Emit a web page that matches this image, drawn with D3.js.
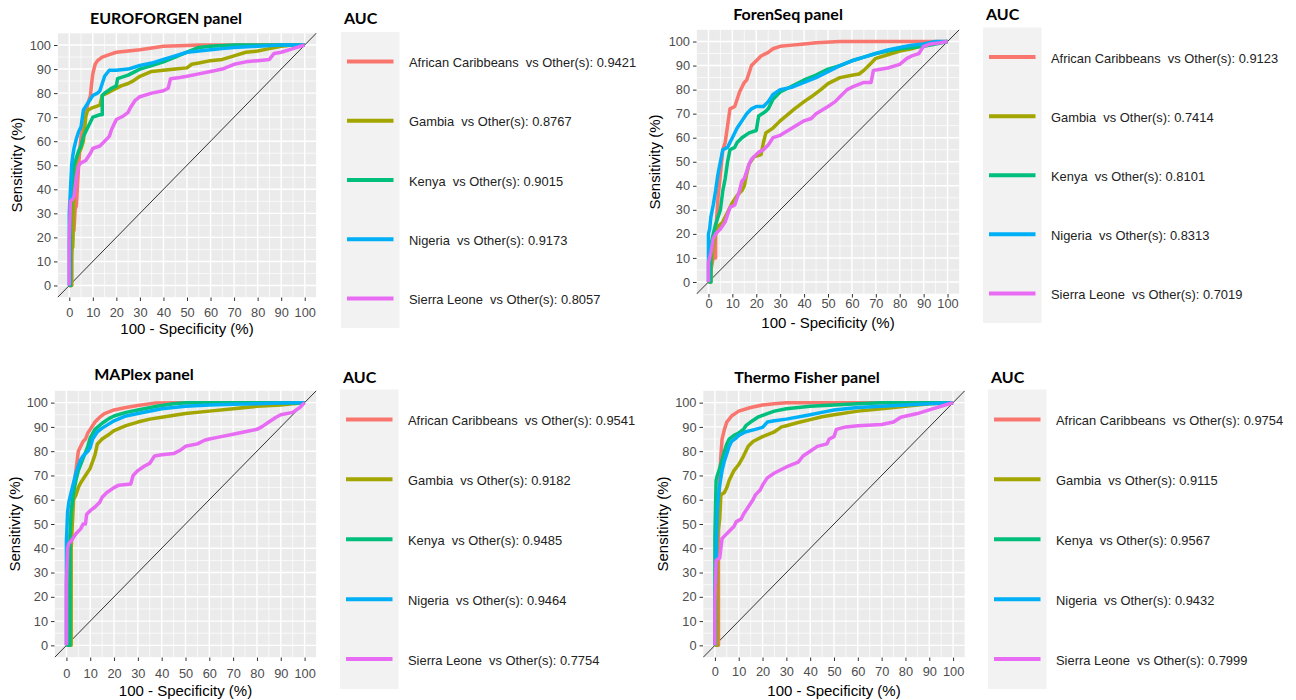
<!DOCTYPE html>
<html>
<head>
<meta charset="utf-8">
<script src="https://cdn.jsdelivr.net/npm/d3@7"></script>
<style>
  body { margin: 0; background: #ffffff; }
  svg { display: block; }
  .legend-label { white-space: pre; }
</style>
</head>
<body>
<svg id="chart" width="1296" height="700"></svg>
<script>
// ---------------------------------------------------------------
// ROC curves: [100 - specificity (%), sensitivity (%)] per population
// ---------------------------------------------------------------
const panelTitles = ["EUROFORGEN panel", "ForenSeq panel", "MAPlex panel", "Thermo Fisher panel"];
const populations = ["African Caribbeans", "Gambia", "Kenya", "Nigeria", "Sierra Leone"];

const aucEuroforgen = [0.9421, 0.8767, 0.9015, 0.9173, 0.8057];
const aucForenseq   = [0.9123, 0.7414, 0.8101, 0.8313, 0.7019];
const aucMaplex     = [0.9541, 0.9182, 0.9485, 0.9464, 0.7754];
const aucThermo     = [0.9754, 0.9115, 0.9567, 0.9432, 0.7999];

const axisTicks  = [0, 10, 20, 30, 40, 50, 60, 70, 80, 90, 100];
const minorTicks = [-5, 5, 15, 25, 35, 45, 55, 65, 75, 85, 95, 105];

// EUROFORGEN
const euroAfricanCaribbeans = [[0,0],[1,0],[1,12],[1.5,22],[2,23],[2.5,32],[3,33],[3.5,42],[4,50],[4.5,57],[5,62],[6,66],[7,72],[8,76],[9,79],[9.5,84],[10,88],[11,92],[12,93.5],[14,95],[17,96],[20,97],[25,97.5],[30,98],[35,98.8],[40,99.5],[50,99.8],[55,100],[100,100]];
const euroGambia = [[0,0],[1,0],[1,15],[1.5,16],[2,40],[2.5,48],[3,52],[4,55],[5,57],[6,60],[7,70],[7.5,72],[8,73],[10,74],[13,75],[14,79],[16,80],[18,81],[22,83],[25,84],[27,85],[30,87],[35,89],[40,89.5],[45,90],[50,90.5],[52,92],[55,92.5],[60,93.5],[65,94],[70,95.5],[75,97],[80,97.5],[85,98.5],[90,99.5],[95,100],[100,100]];
const euroKenya = [[0,0],[0.5,0],[0.5,30],[1,40],[2,50],[3,53],[4,56],[5,58],[6,62],[8,66],[10,70],[13,71],[14,71],[14,79],[15,80],[18,82],[20,83],[20.5,86],[25,87.5],[30,90],[35,91.5],[40,93],[45,95],[50,97],[55,99],[60,99.5],[70,100],[100,100]];
const euroNigeria = [[0,0],[0,30],[0.5,40],[1,50],[1.5,54],[2,57],[3,61],[4,64],[5,66],[6,73],[8,76],[10,79],[12,80],[13,81],[14,84],[15,87],[17,89.5],[20,89.5],[25,90],[30,91.5],[35,92.5],[40,94],[45,95.5],[50,97],[55,97.5],[60,98],[65,98.5],[70,99],[80,99.5],[90,100],[100,100]];
const euroSierraLeone = [[0,0],[0,18],[0.5,35],[1.5,36],[2,37],[3,45],[4,50],[5,51],[7,52],[9,55],[10,57],[13,58],[15,60],[17,62],[18,65],[19,67],[20,69],[23,70.5],[25,72],[26,74],[28,77],[30,78.5],[35,80],[40,81],[42,82],[43,86],[47,86.5],[50,87],[55,88],[60,89],[65,90],[70,92],[75,93],[80,93.5],[85,94],[87,96.5],[90,97],[95,98.5],[100,100]];

// ForenSeq
const forenAfricanCaribbeans = [[0,0],[1,0],[1,5],[2,10],[3,10],[3,20],[4,35],[5,45],[6,55],[7,58],[8,65],[9,72],[11,73],[12,76],[13,79],[15,83],[16,84],[17,87],[18,90],[20,92],[22,94],[25,95.5],[27,97],[30,98],[35,98.5],[40,99],[45,99.5],[55,100],[100,100]];
const forenGambia = [[0,0],[1,0],[1,5],[2,15],[3,20],[4,23],[6,25],[8,29],[10,33],[12,36],[14,38],[15,40],[16,45],[17,49],[19,52],[22,53],[23,58],[24,62],[27,64],[30,67],[33,69.5],[36,72],[40,75],[43,77],[47,80],[50,82.5],[55,85],[60,86],[63,86.5],[65,88],[68,91],[70,93],[75,94.5],[80,96],[85,97],[90,98.5],[95,99.5],[100,100]];
const forenKenya = [[0,0],[1,0],[1,8],[1,15],[2,20],[3,24],[4,27],[5,30],[6,38],[7,43],[8,50],[9,55],[11,56],[12,58],[14,60],[17,62],[20,63],[21,69],[24,71],[25,72],[27,76],[30,79],[35,81.5],[40,84],[45,86],[50,88.5],[55,90],[60,92],[65,93.5],[70,95],[75,96],[80,97],[85,97.5],[90,98],[95,99],[100,100]];
const forenNigeria = [[0,0],[0,20],[0.5,22],[1,27],[2,32],[3,38],[4,45],[5,50],[6,55],[8,56],[9,58],[10,60],[12,64],[14,67],[16,70],[18,72],[20,73],[23,73],[25,75],[27,78],[30,80],[35,81],[40,83],[45,85],[50,87.5],[55,90],[60,92],[65,93.5],[70,95],[75,96.5],[80,97.5],[85,98.5],[90,99],[95,100],[100,100]];
const forenSierraLeone = [[0,0],[0,8],[1,12],[2,18],[3,20],[5,22],[7,25],[8,28],[9,31],[11,32],[12,35],[13,38],[14,42],[15,43],[17,49],[18,51],[21,54],[23,55],[25,57],[27,60],[30,61],[35,64],[40,67],[43,68],[45,70],[50,73],[53,75],[55,77],[58,80],[60,81],[65,83],[68,83],[69,88],[72,88.5],[75,89],[80,90.5],[83,93],[85,94],[88,95],[90,98],[93,99],[97,99.5],[100,100]];

// MAPlex
const maplexAfricanCaribbeans = [[0,0],[1.5,0],[1.5,13],[1.5,40],[2,55],[3,64],[4,72],[5,80],[6,82],[7,84],[8,85],[9,87.5],[10,89],[12,92],[14,94],[16,95.5],[20,97],[25,98],[30,98.8],[37,99.8],[45,100],[100,100]];
const maplexGambia = [[0,0],[2,0],[2,40],[2.5,50],[3,60],[4,62],[5,65],[6,67],[8,70],[10,73],[12,78.5],[13,83],[15,85],[18,87],[20,88.5],[25,90.5],[30,92],[35,93.2],[40,94],[50,95.5],[60,96.5],[70,97.5],[80,98.5],[90,99],[95,99.5],[100,100]];
const maplexKenya = [[0,0],[1.5,0],[1.5,16],[1.5,45],[2,55],[3,63],[4,68],[5,72],[7,77],[9,82],[10,85.5],[12,89],[15,91.5],[18,93.5],[20,94.5],[25,96],[30,97],[38,98.5],[45,99.5],[50,100],[100,100]];
const maplexNigeria = [[0,0],[0,25],[0,43],[0.5,55],[1,59],[2,63],[3,67],[4,71],[5,74],[6,76.5],[7,78],[9,80],[10,81.5],[11,85],[13,88],[15,89.5],[20,92.5],[25,94.5],[30,95.5],[40,97.5],[50,98.5],[60,99],[70,99.3],[80,99.5],[90,99.8],[100,100]];
const maplexSierraLeone = [[0,0],[0,25],[0.5,40],[1,42],[2,43],[3,44.5],[4,46],[6,48],[7,50],[8,50],[8.5,54],[10,55.5],[12,57],[14,59],[15,61],[17,63],[20,65],[22,66],[27,66.5],[28,70],[30,72],[33,74],[35,75],[37,78],[40,78.5],[45,79],[48,80.5],[50,82],[55,83],[58,84.5],[60,85],[65,86],[70,87],[75,88],[80,89],[82,90],[85,92],[88,94],[90,95],[95,96],[98,98],[100,100]];

// Thermo Fisher
const thermoAfricanCaribbeans = [[0,0],[1.5,0],[1.5,45],[2,70],[2.5,78],[3,85],[4,89],[5,92],[7,94.5],[10,96.5],[15,98],[20,99],[25,99.5],[30,100],[100,100]];
const thermoGambia = [[0,0],[1,0],[1,45],[2,52],[2.5,62],[4,63],[5,65],[6,68],[8,72],[10,74.5],[12,78],[14,82],[16,84],[20,86],[25,88],[28,90],[30,90.5],[35,91.8],[40,93],[45,94.2],[50,95],[60,96.5],[70,97.5],[80,98.5],[90,99.5],[100,100]];
const thermoKenya = [[0,0],[0,45],[0.5,68],[1,70],[2,73],[3,76.5],[4,80],[5,83],[6,85],[8,86.5],[10,87.5],[12,89],[13,90.5],[15,92],[18,94],[22,95.5],[25,96.5],[30,97.5],[40,98.5],[50,99],[60,99.5],[70,100],[100,100]];
const thermoNigeria = [[0,0],[0,18],[0.5,35],[1,55],[1.5,62],[2,66],[3,72],[4,76],[5,79],[6,82],[7,84],[9,85.5],[10,86.5],[13,88],[17,89],[20,89.8],[22,92],[25,92.5],[30,93.2],[40,95],[47,96.4],[50,97],[60,98],[70,98.5],[80,99],[90,99.5],[100,100]];
const thermoSierraLeone = [[0,0],[0,17],[0.5,35],[2,36],[3,44],[4,45],[6,47],[8,49],[9,51],[11,52],[12,54],[14,57],[16,60],[17,62],[19,64],[20,66],[22,69],[25,71],[30,73.5],[35,75.5],[37,78],[40,80],[43,82],[47,83],[48,85],[50,86],[51,89],[55,90],[60,90.5],[70,91],[75,92],[78,94],[85,95.5],[90,97],[95,98.5],[100,100]];

// ---------------------------------------------------------------
// Assemble panels
// ---------------------------------------------------------------
const panelCurves = [
  [euroAfricanCaribbeans, euroGambia, euroKenya, euroNigeria, euroSierraLeone],
  [forenAfricanCaribbeans, forenGambia, forenKenya, forenNigeria, forenSierraLeone],
  [maplexAfricanCaribbeans, maplexGambia, maplexKenya, maplexNigeria, maplexSierraLeone],
  [thermoAfricanCaribbeans, thermoGambia, thermoKenya, thermoNigeria, thermoSierraLeone]
];
const panelAuc = [aucEuroforgen, aucForenseq, aucMaplex, aucThermo];

// ggplot2 default hue palette for five groups
const seriesColors = ["#F8766D", "#A3A500", "#00BF7D", "#00B0F6", "#E76BF3"];

// Page geometry of each panel (plot area, titles, legend column)
const layout = [
  { left: 57.5, right: 316.5, top: 33, bottom: 297.5, xLabelTop: 307.5, xTitleY: 334, yTitleX: 22, yTitleY: 165,
    titleX: 166, titleY: 24, legend: { left: 341, top: 32, bottom: 328, titleY: 24 } },
  { left: 696.5, right: 959.5, top: 29.5, bottom: 294, xLabelTop: 299, xTitleY: 328, yTitleX: 660, yTitleY: 162,
    titleX: 788, titleY: 20, legend: { left: 983, top: 27.5, bottom: 323, titleY: 20 } },
  { left: 54.5, right: 316.5, top: 390.5, bottom: 657.5, xLabelTop: 668.5, xTitleY: 696, yTitleX: 20, yTitleY: 524,
    titleX: 144, titleY: 380, legend: { left: 340, top: 389.5, bottom: 689, titleY: 383 } },
  { left: 703, right: 965, top: 390.5, bottom: 657.5, xLabelTop: 667, xTitleY: 696, yTitleX: 668, yTitleY: 524,
    titleX: 807, titleY: 383, legend: { left: 988, top: 389.5, bottom: 689, titleY: 383 } }
];

const svg = d3.select("#chart");
svg.append("rect").attr("width", 1296).attr("height", 700).attr("fill", "#ffffff");

const tickFont = "'Liberation Sans', Arial, sans-serif";
const titleFont = "Lato, 'Open Sans', sans-serif";

panelTitles.forEach((title, i) => {
  const L = layout[i];
  const x = d3.scaleLinear().domain([-5, 105]).range([L.left, L.right]);
  const y = d3.scaleLinear().domain([-5, 105]).range([L.bottom, L.top]);
  const g = svg.append("g").attr("class", "panel");

  // panel background
  g.append("rect")
    .attr("x", L.left).attr("y", L.top)
    .attr("width", L.right - L.left).attr("height", L.bottom - L.top)
    .attr("fill", "#EBEBEB");

  // grid: minor then major
  const grid = g.append("g").attr("stroke", "#ffffff");
  grid.selectAll("line.vminor").data(minorTicks).join("line")
    .attr("x1", d => x(d)).attr("x2", d => x(d)).attr("y1", L.top).attr("y2", L.bottom)
    .attr("stroke-width", 0.7);
  grid.selectAll("line.hminor").data(minorTicks).join("line")
    .attr("y1", d => y(d)).attr("y2", d => y(d)).attr("x1", L.left).attr("x2", L.right)
    .attr("stroke-width", 0.7);
  grid.selectAll("line.vmajor").data(axisTicks).join("line")
    .attr("x1", d => x(d)).attr("x2", d => x(d)).attr("y1", L.top).attr("y2", L.bottom)
    .attr("stroke-width", 1.4);
  grid.selectAll("line.hmajor").data(axisTicks).join("line")
    .attr("y1", d => y(d)).attr("y2", d => y(d)).attr("x1", L.left).attr("x2", L.right)
    .attr("stroke-width", 1.4);

  // clip marks to the plot area
  const clipId = "clip" + i;
  g.append("clipPath").attr("id", clipId).append("rect")
    .attr("x", L.left).attr("y", L.top)
    .attr("width", L.right - L.left).attr("height", L.bottom - L.top);
  const marks = g.append("g").attr("clip-path", `url(#${clipId})`);

  // chance diagonal
  marks.append("line")
    .attr("x1", x(-5)).attr("y1", y(-5)).attr("x2", x(105)).attr("y2", y(105))
    .attr("stroke", "#333333").attr("stroke-width", 1);

  // ROC curves
  const line = d3.line().x(d => x(d[0])).y(d => y(d[1])).curve(d3.curveLinear);
  panelCurves[i].forEach((pts, k) => {
    marks.append("path")
      .attr("d", line(pts))
      .attr("fill", "none")
      .attr("stroke", seriesColors[k])
      .attr("stroke-width", 3.5)
      .attr("stroke-linejoin", "round")
      .attr("stroke-linecap", "butt");
  });

  // axes
  const tickLen = 3.5;
  const fs = 12.8;
  const xAxis = d3.axisBottom(x).tickValues(axisTicks).tickSize(tickLen)
    .tickPadding(L.xLabelTop - L.bottom - tickLen);
  const yAxis = d3.axisLeft(y).tickValues(axisTicks).tickSize(tickLen).tickPadding(3);

  const gx = g.append("g").attr("transform", `translate(0,${L.bottom})`).call(xAxis);
  const gy = g.append("g").attr("transform", `translate(${L.left},0)`).call(yAxis);
  [gx, gy].forEach(ax => {
    ax.select(".domain").remove();
    ax.selectAll(".tick line").attr("stroke", "#333333").attr("stroke-width", 1);
    ax.selectAll(".tick text")
      .attr("fill", "#4D4D4D")
      .style("font-family", tickFont)
      .style("font-size", fs + "px");
  });

  // axis titles
  g.append("text")
    .attr("x", (L.left + L.right) / 2).attr("y", L.xTitleY)
    .attr("text-anchor", "middle")
    .style("font-family", tickFont).style("font-size", "15px").attr("fill", "#000")
    .text("100 - Specificity (%)");
  g.append("text")
    .attr("transform", `translate(${L.yTitleX},${L.yTitleY}) rotate(-90)`)
    .attr("text-anchor", "middle")
    .style("font-family", tickFont).style("font-size", "15px").attr("fill", "#000")
    .text("Sensitivity (%)");

  // panel title
  g.append("text")
    .attr("x", L.titleX).attr("y", L.titleY)
    .attr("text-anchor", "middle")
    .style("font-family", titleFont).style("font-weight", "700").style("font-size", "16px")
    .attr("fill", "#000")
    .text(title);

  // legend
  const LG = L.legend;
  const lg = g.append("g").attr("class", "legend");
  const slot = d3.scaleBand().domain(populations).range([LG.top, LG.bottom]);
  lg.append("rect")
    .attr("x", LG.left).attr("y", LG.top)
    .attr("width", 58.5).attr("height", LG.bottom - LG.top)
    .attr("fill", "#F2F2F2");
  lg.append("text")
    .attr("x", LG.left + 3).attr("y", LG.titleY)
    .style("font-family", titleFont).style("font-weight", "700").style("font-size", "16px")
    .attr("fill", "#000")
    .text("AUC");
  populations.forEach((name, k) => {
    const cy = slot(name) + slot.bandwidth() / 2;
    lg.append("line")
      .attr("x1", LG.left + 6).attr("x2", LG.left + 52.5)
      .attr("y1", cy).attr("y2", cy)
      .attr("stroke", seriesColors[k]).attr("stroke-width", 4);
    lg.append("text")
      .attr("class", "legend-label")
      .attr("x", LG.left + 68).attr("y", cy + 1)
      .attr("dy", "0.35em")
      .style("font-family", tickFont).style("font-size", "12.9px")
      .attr("fill", "#222")
      .text(`${name}  vs Other(s): ${panelAuc[i][k].toFixed(4)}`);
  });
});
</script>
</body>
</html>
